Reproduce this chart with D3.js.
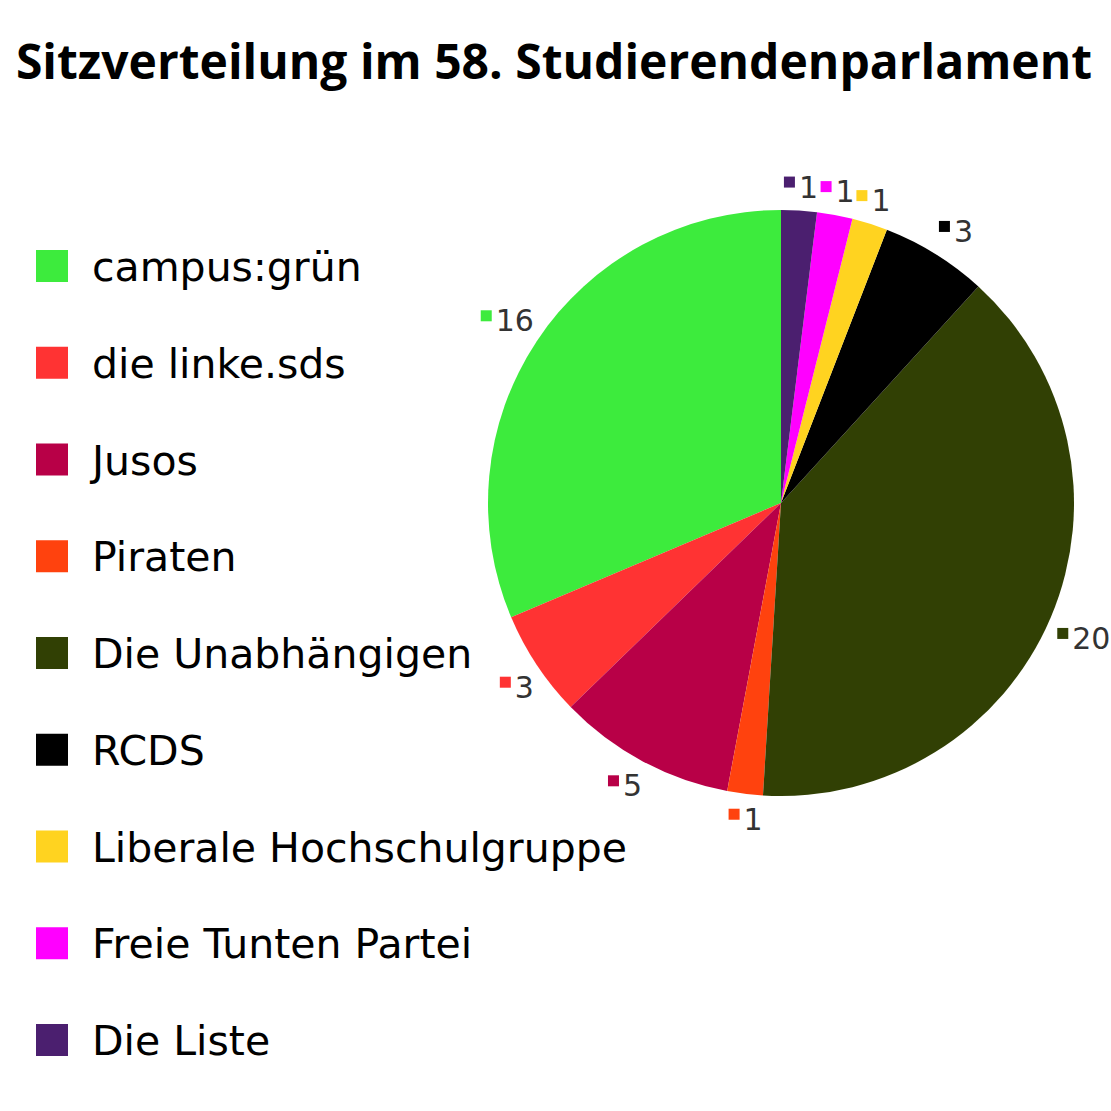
<!DOCTYPE html>
<html>
<head>
<meta charset="utf-8">
<script src="https://cdn.jsdelivr.net/npm/d3@7"></script>
<style>
  html, body { margin: 0; padding: 0; background: #ffffff; }
  svg { display: block; }
</style>
</head>
<body>
<svg id="chart" width="1111" height="1111"></svg>
<script>
const title = "Sitzverteilung im 58. Studierendenparlament";
const parties = ["campus:grün", "die linke.sds", "Jusos", "Piraten", "Die Unabhängigen", "RCDS", "Liberale Hochschulgruppe", "Freie Tunten Partei", "Die Liste"];
const seats = [16, 3, 5, 1, 20, 3, 1, 1, 1];
const colors = ["#3deb3d", "#ff3333", "#b80047", "#ff420e", "#314004", "#000000", "#ffd320", "#ff00ff", "#4b1f6f"];

const svg = d3.select("#chart");
const W = 1111, H = 1111;
svg.append("rect").attr("width", W).attr("height", H).attr("fill", "#fff");

// Title
svg.append("text")
  .attr("x", 554).attr("y", 79)
  .attr("text-anchor", "middle")
  .attr("font-family", "'Open Sans', sans-serif")
  .attr("font-weight", "bold")
  .attr("font-size", 48)
  .attr("fill", "#000")
  .text(title);

// Pie
const cx = 781, cy = 503, R = 293;
const color = d3.scaleOrdinal().domain(parties).range(colors);
const data = parties.map((p, i) => ({ party: p, value: seats[i] }));
const pie = d3.pie().value(d => d.value).sort(null).startAngle(0).endAngle(-2 * Math.PI);
const arcs = pie(data);
const arc = d3.arc().innerRadius(0).outerRadius(R);

const g = svg.append("g").attr("transform", `translate(${cx},${cy})`);
g.selectAll("path.slice").data(arcs).enter().append("path")
  .attr("class", "slice")
  .attr("d", arc)
  .attr("fill", d => color(d.data.party));

// Data labels
const labelR = 300, labelFont = 30, boxH = 35, sq = 11, gap = 4;
arcs.forEach(d => {
  const mid = (d.startAngle + d.endAngle) / 2;
  const dx = Math.sin(mid), dy = -Math.cos(mid);
  const px = dx * labelR, py = dy * labelR;
  const lg = g.append("g");
  const t = lg.append("text")
    .attr("font-family", "'DejaVu Sans', sans-serif")
    .attr("font-size", labelFont)
    .attr("fill", "#333")
    .text(d.data.value);
  const tw = t.node().getComputedTextLength();
  const w = sq + gap + tw - 3;
  const bcx = px + (Math.abs(dx) > 0.4 ? Math.sign(dx) * w / 2 : 0);
  const bcy = py + Math.sign(dy) * boxH / 2;
  const left = bcx - w / 2;
  lg.insert("rect", "text")
    .attr("x", left).attr("y", bcy - 9.5)
    .attr("width", sq).attr("height", sq)
    .attr("fill", color(d.data.party));
  t.attr("x", left + sq + gap).attr("y", bcy + 11.5);
});

// Legend
const legY = d3.scalePoint().domain(parties).range([266, 1040]);
const leg = svg.append("g");
parties.forEach(p => {
  const y = legY(p);
  leg.append("rect")
    .attr("x", 36).attr("y", y - 16)
    .attr("width", 32).attr("height", 32)
    .attr("fill", color(p));
  leg.append("text")
    .attr("x", 92).attr("y", y + 15)
    .attr("font-family", "'DejaVu Sans', sans-serif")
    .attr("font-size", 41)
    .attr("fill", "#000")
    .text(p);
});
</script>
</body>
</html>
